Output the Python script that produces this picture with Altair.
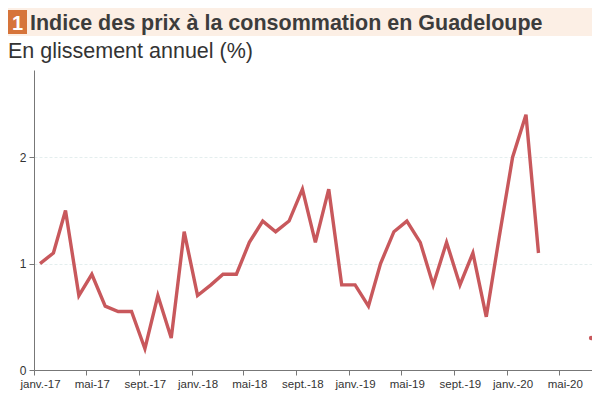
import altair as alt
import pandas as pd

# Monthly data (mid-month), Jan 2017 - Jul 2020 ; None = missing
values = [
    1.0, 1.1, 1.5, 0.7, 0.9, 0.6, 0.55, 0.55, 0.2, 0.7, 0.3, 1.3,   # 2017
    0.7, 0.8, 0.9, 0.9, 1.2, 1.4, 1.3, 1.4, 1.7, 1.2, 1.7, 0.8,      # 2018
    0.8, 0.6, 1.0, 1.3, 1.4, 1.2, 0.8, 1.2, 0.8, 1.1, 0.5, 1.25,     # 2019
    2.0, 2.4, 1.1, None, None, None, 0.3,                            # 2020
]
segments = [1] * 39 + [0, 0, 0] + [2]

tick_dates = ["2017-01", "2017-05", "2017-09", "2018-01", "2018-05", "2018-09",
              "2019-01", "2019-05", "2019-09", "2020-01", "2020-05"]
tick_labels = ["janv.-17", "mai-17", "sept.-17", "janv.-18", "mai-18", "sept.-18",
               "janv.-19", "mai-19", "sept.-19", "janv.-20", "mai-20"]

title_text = "Indice des prix à la consommation en Guadeloupe"
subtitle_text = "En glissement annuel (%)"

dates = pd.date_range("2017-01-01", periods=len(values), freq="MS") + pd.Timedelta(days=14)
df = pd.DataFrame({
    "date": [d.strftime("%Y-%m-%d") for d in dates],
    "value": values,
    "seg": segments,
})
df = df[df["seg"] > 0]

tick_ms = [int(pd.Timestamp(t + "-01", tz="UTC").timestamp() * 1000) for t in tick_dates]
label_map = "{" + ",".join(f"'{d}':'{l}'" for d, l in zip(tick_dates, tick_labels)) + "}"
label_expr = f"{label_map}[utcFormat(datum.value, '%Y-%m')]"

dom_start = int(pd.Timestamp("2017-01-01", tz="UTC").timestamp() * 1000)
dom_end = int(pd.Timestamp("2020-07-17", tz="UTC").timestamp() * 1000)

FONT = "Liberation Sans"

x_enc = alt.X("date:T",
              scale=alt.Scale(type="utc", domain=[dom_start, dom_end]),
              axis=alt.Axis(values=tick_ms, labelExpr=label_expr, title=None,
                            grid=False, domainColor="#777", tickColor="#777",
                            tickSize=5, labelFontSize=11.5, labelColor="#333",
                            labelFont=FONT, labelPadding=3, labelFlush=False,
                            labelOffset=6))
y_enc = alt.Y("value:Q",
              scale=alt.Scale(domain=[0, 2.82], nice=False),
              axis=alt.Axis(values=[0, 1, 2], title=None, grid=True,
                            gridColor="#e4eeee", gridDash=[3, 2], gridWidth=1,
                            domainColor="#777", tickColor="#777", tickSize=5,
                            labelFontSize=12, labelColor="#333", labelFont=FONT,
                            labelPadding=3))

base = alt.Chart(df)
line = base.transform_filter("datum.seg == 1").mark_line(
    color="#c8585c", strokeWidth=3.4, strokeJoin="miter"
).encode(x=x_enc, y=y_enc, detail="seg:N")
dot = base.transform_filter("datum.seg == 2").mark_circle(
    color="#c8585c", size=20, opacity=1
).encode(x=x_enc, y=y_enc)

one = pd.DataFrame({"k": [0]})
band = alt.Chart(one).mark_rect(color="#fcefe5").encode(
    x=alt.value(-26), x2=alt.value(570), y=alt.value(-65), y2=alt.value(-34))
box = alt.Chart(one).mark_rect(color="#d6743a").encode(
    x=alt.value(-26), x2=alt.value(-7), y=alt.value(-60), y2=alt.value(-36))
num = alt.Chart(one).mark_text(
    text="1", color="white", fontSize=20, fontWeight="bold", font=FONT,
    align="center", baseline="alphabetic"
).encode(x=alt.value(-16.5), y=alt.value(-40))
title = alt.Chart(one).mark_text(
    text=title_text, color="#3c3c3c", fontSize=21.5, fontWeight="bold", font=FONT,
    align="left", baseline="alphabetic"
).encode(x=alt.value(-4), y=alt.value(-40))
subtitle = alt.Chart(one).mark_text(
    text=subtitle_text, color="#333", fontSize=21.5, font=FONT,
    align="left", baseline="alphabetic"
).encode(x=alt.value(-26), y=alt.value(-12))

chart = alt.layer(band, box, num, title, subtitle, line, dot).properties(
    width=558, height=300,
    autosize=alt.AutoSizeParams(type="none"),
    padding={"left": 26, "top": 62, "right": 0, "bottom": 20},
    background="white",
).configure_view(stroke=None)

chart.save("out.html", embed_options={"renderer": "svg", "actions": False})
